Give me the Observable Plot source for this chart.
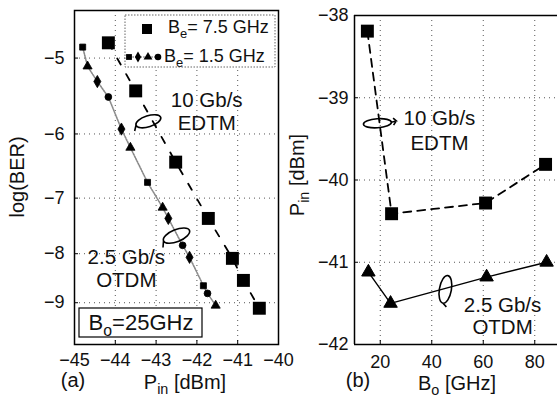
<!DOCTYPE html>
<html><head><meta charset="utf-8">
<script src="https://cdn.jsdelivr.net/npm/d3@7"></script>
<script src="https://cdn.jsdelivr.net/npm/@observablehq/plot@0.6"></script>
<style>
html,body{margin:0;padding:0;background:#fff;overflow:hidden;width:557px;height:398px}
#wrap{position:relative;width:557px;height:398px;overflow:hidden;background:#fff}
#a{position:absolute;left:0;top:0;width:280px;height:398px}
#b{position:absolute;left:280px;top:0;width:282px;height:398px}
</style></head><body><div id="wrap"><div id="a"></div><div id="b"></div></div>
<script>
// ---------- data: panel (a) ----------
const pinBe75 = [-44.17, -43.50, -42.52, -41.72, -41.13, -40.86, -40.47];
const berBe75 = [-4.82, -5.41, -6.42, -7.35, -8.09, -8.53, -9.12];
const pinBe15 = [-44.80, -44.68, -44.44, -44.17, -43.85, -43.63, -43.21, -42.84, -42.70, -42.35, -42.18, -41.84, -41.74, -41.54];
const berBe15 = [-4.87, -5.10, -5.29, -5.49, -5.93, -6.20, -6.74, -7.16, -7.35, -7.84, -8.07, -8.64, -8.80, -9.06];
const shapeBe15 = ["square","triangle","diamond","circle","diamond","triangle","square","triangle","diamond","circle","diamond","square","circle","triangle"];
const ticksPinA = [-45, -44, -43, -42, -41, -40];
const ticksBER = [-5, -6, -7, -8, -9];
// ---------- data: panel (b) ----------
const boEDTM = [15, 24.4, 60.9, 84.2];
const pinEDTM = [-38.19, -40.41, -40.28, -39.81];
const boOTDM = [15.4, 24, 61.3, 84.6];
const pinOTDM = [-41.12, -41.50, -41.18, -41.00];
const ticksBo = [20, 40, 60, 80];
const ticksPinB = [-42, -41, -40, -39, -38];
// ---------- annotations ----------
const notesA = [
  {x: -41.76, y: -5.53, t: "10 Gb/s"}, {x: -41.76, y: -5.85, t: "EDTM"},
  {x: -43.73, y: -8.07, t: "2.5 Gb/s"}, {x: -43.73, y: -8.53, t: "OTDM"}
];
const notesB = [
  {x: 43.0, y: -39.25, t: "10 Gb/s"}, {x: 43.0, y: -39.56, t: "EDTM"},
  {x: 67.5, y: -41.53, t: "2.5 Gb/s"}, {x: 67.5, y: -41.79, t: "OTDM"}
];
const loopA1 = [{x: -43.19, y: -5.82}];
const loopA2 = [{x: -42.50, y: -7.66}];
const loopB1 = [{x: 18.9, y: -39.31}];
const loopB2 = [{x: 45.3, y: -41.33}];

const be75 = pinBe75.map((p, i) => ({pin: p, ber: berBe75[i]}));
const be15 = pinBe15.map((p, i) => ({pin: p, ber: berBe15[i], shape: shapeBe15[i]}));
const edtm = boEDTM.map((b, i) => ({bo: b, pin: pinEDTM[i]}));
const otdm = boOTDM.map((b, i) => ({bo: b, pin: pinOTDM[i]}));

const FONT = "'Liberation Sans', Arial, Helvetica, sans-serif";
const minus = d => d < 0 ? "\u2212" + (-d) : String(d);

function lasso(rx, ry, deg, tail) {
  const a = deg * Math.PI / 180, c = Math.cos(a), s = Math.sin(a);
  const P = (x, y) => [x * c - y * s, x * s + y * c];
  return {draw(ctx) {
    const k = 0.5523;
    const pts = [[rx,0],[rx,ry*k],[rx*k,ry],[0,ry],[-rx*k,ry],[-rx,ry*k],[-rx,0],[-rx,-ry*k],[-rx*k,-ry],[0,-ry],[rx*k,-ry],[rx,-ry*k],[rx,0]];
    ctx.moveTo(...P(...pts[0]));
    for (let i = 1; i < pts.length; i += 3) ctx.bezierCurveTo(...P(...pts[i]), ...P(...pts[i+1]), ...P(...pts[i+2]));
    if (tail) { ctx.moveTo(...P(...tail[0])); for (let j = 1; j < tail.length; j++) ctx.lineTo(...P(...tail[j])); }
  }};
}

const grid = {stroke: "#555", strokeOpacity: 1, strokeWidth: 1, strokeDasharray: "1,4"};
const shapes = ["square", "triangle", "diamond", "circle"];
const rShape = {square: 3.4, triangle: 3.4, diamond: 3.7, circle: 3.4};

const A = Plot.plot({
  width: 280, height: 398, marginLeft: 74, marginRight: 2, marginTop: 10, marginBottom: 54,
  style: {fontFamily: FONT, background: "transparent", overflow: "visible", maxWidth: "none", color: "#111"},
  x: {domain: [-45, -40]},
  y: {type: "log", domain: [4.46, 9.95], reverse: true},
  marks: [
    Plot.gridX(ticksPinA.slice(1, -1), grid),
    Plot.gridY(ticksBER.map(d => -d), grid),
    Plot.ruleX(ticksPinA.slice(1, -1), {x: d => d, insetTop: 330, stroke: "#000"}),
    Plot.ruleY(ticksBER.map(d => -d), {y: d => d, insetRight: 200, stroke: "#000"}),
    Plot.line(be15, {x: "pin", y: d => -d.ber, stroke: "#8a8a8a", strokeWidth: 1.6, strokeDasharray: "1.5,1.2"}),
    Plot.line(be75, {x: "pin", y: d => -d.ber, stroke: "#000", strokeWidth: 1.8, strokeDasharray: "7,11"}),
    ...shapes.map(s => Plot.dot(be15, {filter: d => d.shape === s, x: "pin", y: d => -d.ber, symbol: s, r: rShape[s], fill: "#000", stroke: "#000", strokeWidth: 0.8})),
    Plot.dot(be75, {x: "pin", y: d => -d.ber, symbol: "square", r: 7.3, fill: "#000"}),
    Plot.dot(loopA1, {x: "x", y: d => -d.y, symbol: lasso(13, 5.5, -18, [[-13, 0], [-16, 5]]), fill: "none", stroke: "#000", strokeWidth: 1.6}),
    Plot.dot(loopA2, {x: "x", y: d => -d.y, symbol: lasso(14, 6, -22, [[-14, 0], [-17, 6]]), fill: "none", stroke: "#000", strokeWidth: 1.6}),
    Plot.text(notesA, {x: "x", y: d => -d.y, text: "t", fontSize: 20.5, fill: "#111"}),
    Plot.frame({stroke: "#000", strokeWidth: 1.5}),
    Plot.axisX(ticksPinA, {tickSize: 0, tickPadding: 9, fontSize: 18, tickFormat: minus, label: null}),
    Plot.axisY(ticksBER.map(d => -d), {tickSize: 0, tickPadding: 10, fontSize: 18, tickFormat: d => "\u2212" + d, label: null})
  ]
});
document.getElementById("a").appendChild(A);

const B = Plot.plot({
  width: 282, height: 398, marginLeft: 74, marginRight: 2, marginTop: 15, marginBottom: 54,
  style: {fontFamily: FONT, background: "transparent", overflow: "visible", maxWidth: "none", color: "#111"},
  x: {domain: [10, 90]},
  y: {domain: [-42, -38]},
  marks: [
    Plot.gridX(ticksBo, grid),
    Plot.gridY(ticksPinB.slice(1, -1), grid),
    Plot.ruleX(ticksBo, {x: d => d, insetTop: 325, stroke: "#000"}),
    Plot.ruleY(ticksPinB, {y: d => d, insetRight: 202, stroke: "#000"}),
    Plot.line(edtm, {x: "bo", y: "pin", stroke: "#000", strokeWidth: 1.8, strokeDasharray: "8,6"}),
    Plot.line(otdm, {x: "bo", y: "pin", stroke: "#000", strokeWidth: 1.4}),
    Plot.dot(edtm, {x: "bo", y: "pin", symbol: "square", r: 7.3, fill: "#000"}),
    Plot.dot(otdm, {x: "bo", y: "pin", symbol: "triangle", r: 5, fill: "#000", stroke: "#000", strokeWidth: 1}),
    Plot.dot(loopB1, {x: "x", y: "y", symbol: lasso(14, 4.5, -4, [[14, 0], [19, -1], [16, -4], [19, -1], [16, 3]]), fill: "none", stroke: "#000", strokeWidth: 1.6}),
    Plot.dot(loopB2, {x: "x", y: "y", symbol: lasso(6, 14, 10, [[0, 14], [4, 17]]), fill: "none", stroke: "#000", strokeWidth: 1.6}),
    Plot.text(notesB, {x: "x", y: "y", text: "t", fontSize: 20.5, fill: "#111"}),
    Plot.ruleX([10], {stroke: "#000", strokeWidth: 1.5}),
    Plot.ruleY([-42, -38], {stroke: "#000", strokeWidth: 1.5}),
    Plot.axisX(ticksBo, {tickSize: 0, tickPadding: 11, fontSize: 18, tickFormat: minus, label: null}),
    Plot.axisY(ticksPinB, {tickSize: 0, tickPadding: 6, fontSize: 18, tickFormat: minus, label: null})
  ]
});
document.getElementById("b").appendChild(B);

// ---------- text with subscripts, legend, boxes ----------
function rich(g, x, y, parts, size, anchor, rotate) {
  const t = g.append("text").attr("x", x).attr("y", y).attr("font-size", size)
    .attr("text-anchor", anchor || "start").attr("fill", "#111").attr("font-family", FONT);
  if (rotate) t.attr("transform", `rotate(${rotate},${x},${y})`);
  let down = false;
  for (const [str, sub] of parts) {
    const ts = t.append("tspan").text(str);
    if (sub) { ts.attr("font-size", size * 0.72).attr("dy", size * 0.25); down = true; }
    else if (down) { ts.attr("dy", -size * 0.25); down = false; }
  }
  return t;
}
const gA = d3.select(A).append("g");
rich(gA, 24, 177, [["log(BER)"]], 20, "middle", -90);
rich(gA, 185, 389, [["P"], ["in", 1], [" [dBm]"]], 20, "middle");
rich(gA, 73, 387, [["(a)"]], 20, "middle");
// legend
gA.append("rect").attr("x", 125).attr("y", 15).attr("width", 150).attr("height", 52)
  .attr("fill", "#fff").attr("stroke", "#666").attr("stroke-width", 1).attr("stroke-dasharray", "1.5,1.5");
gA.append("rect").attr("x", 142).attr("y", 24).attr("width", 10).attr("height", 10).attr("fill", "#000");
rich(gA, 168, 33, [["B"], ["e", 1], ["= 7.5 GHz"]], 18, "start");
gA.append("line").attr("x1", 127).attr("x2", 162).attr("y1", 57).attr("y2", 57)
  .attr("stroke", "#8a8a8a").attr("stroke-width", 1.6).attr("stroke-dasharray", "1.5,1.2");
[["square", 129], ["diamond", 138], ["triangle", 148], ["circle", 158]].forEach(([s, x]) => {
  const sym = {square: d3.symbolSquare, diamond: d3.symbolDiamond, triangle: d3.symbolTriangle, circle: d3.symbolCircle}[s];
  gA.append("path").attr("transform", `translate(${x},57)`).attr("d", d3.symbol(sym, 34)()).attr("fill", "#000");
});
rich(gA, 164, 62, [["B"], ["e", 1], ["= 1.5 GHz"]], 18, "start");
// Bo box
gA.append("rect").attr("x", 79).attr("y", 308).attr("width", 123).attr("height", 29)
  .attr("fill", "#fff").attr("stroke", "#000").attr("stroke-width", 1.2);
rich(gA, 141, 330, [["B"], ["o", 1], ["=25GHz"]], 22, "middle");

const gB = d3.select(B).append("g");
rich(gB, 24, 175, [["P"], ["in", 1], [" [dBm]"]], 20, "middle", -90);
rich(gB, 78, 387, [["(b)"]], 20, "middle");
rich(gB, 177, 390, [["B"], ["o", 1], [" [GHz]"]], 20, "middle");
</script></body></html>
